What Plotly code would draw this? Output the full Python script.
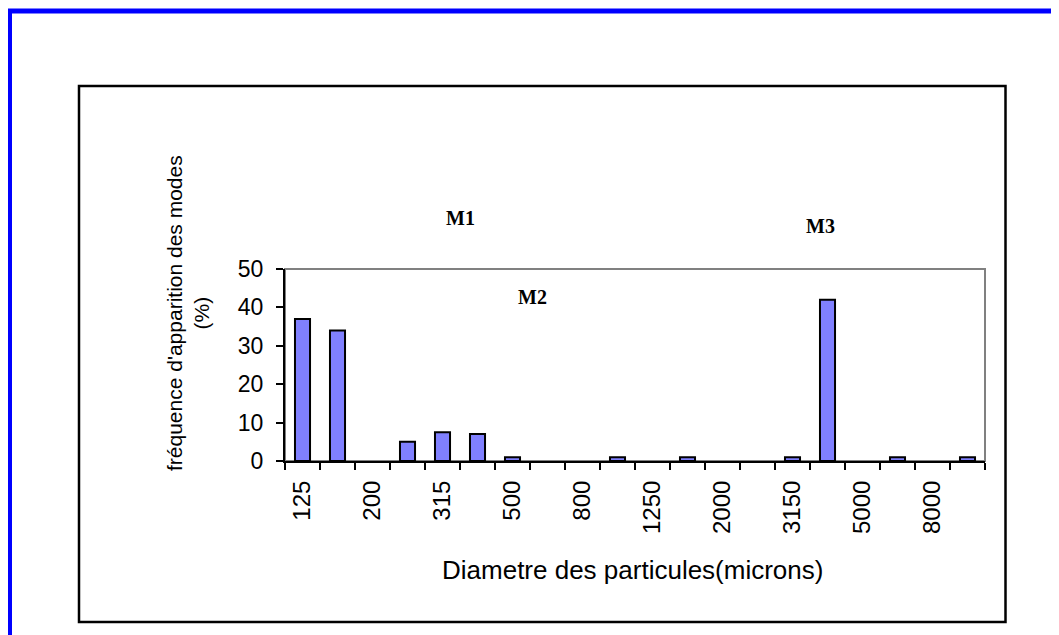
import plotly.graph_objects as go
import numpy as np

categories = ["125", "160", "200", "250", "315", "400", "500", "630", "800", "1000",
              "1250", "1600", "2000", "2500", "3150", "4000", "5000", "6300", "8000", "10000"]
frequencies = [37, 34, 0, 5, 7.5, 7, 1, 0, 0, 1, 0, 1, 0, 0, 1, 42, 0, 1, 0, 1]
shown_labels = ["125", "200", "315", "500", "800", "1250", "2000", "3150", "5000", "8000"]
y_ticks = [0, 10, 20, 30, 40, 50]
mode_labels = ["M1", "M2", "M3"]

OFF = 8  # page body margin
W, H = 1059 - OFF, 635 - OFF
L, R, T, B = 285 - OFF, 985 - OFF, 269 - OFF, 461 - OFF
pw, ph = R - L, B - T

def px(x):
    return (x - OFF - L) / pw

def py(y):
    return (B - (y - OFF)) / ph

idx = np.arange(len(categories))
ticktext = [c if c in shown_labels else "" for c in categories]
outline_w = [2 if v > 0 else 0 for v in frequencies]

fig = go.Figure()
fig.add_trace(go.Bar(
    x=idx, y=frequencies, width=0.43,
    marker=dict(color="#8080FF", line=dict(color="black", width=outline_w)),
    showlegend=False,
))

font = "Liberation Sans, Arial, sans-serif"

fig.update_layout(
    width=W, height=H,
    margin=dict(l=L, r=W - R, t=T, b=H - B, autoexpand=False),
    paper_bgcolor="white", plot_bgcolor="white",
    font=dict(family=font, color="black", size=22),
    xaxis=dict(
        range=[-0.5, len(categories) - 0.5],
        tickmode="array", tickvals=idx, ticktext=ticktext,
        tickangle=-90, ticks="", showgrid=False, zeroline=False,
        showline=True, linecolor="black", linewidth=2,
        tickfont=dict(size=24),
        minor=dict(tickmode="array", tickvals=np.arange(len(categories) + 1) - 0.5,
                   ticks="outside", ticklen=7, tickwidth=2, tickcolor="black", showgrid=False),
        ticklabelstandoff=8,
    ),
    yaxis=dict(
        range=[0, 50], tickmode="array", tickvals=y_ticks,
        ticks="outside", ticklen=7, tickwidth=2, tickcolor="black",
        showgrid=False, zeroline=False,
        showline=True, linecolor="black", linewidth=2,
        tickfont=dict(size=23),
        ticklabelstandoff=8,
    ),
    bargap=0.57,
)

shapes = [
    dict(type="rect", xref="paper", yref="paper", x0=0, x1=1, y0=0, y1=1,
         line=dict(color="#808080", width=2), layer="below"),
    dict(type="rect", xref="paper", yref="paper", x0=px(79), x1=px(1005.5), y0=py(622), y1=py(86),
         line=dict(color="black", width=2.5), layer="below"),
    dict(type="rect", xref="paper", yref="paper", x0=px(9.5), x1=px(1075), y0=py(650), y1=py(11),
         line=dict(color="#0000FF", width=5), layer="below"),
]
fig.update_layout(shapes=shapes)

annotations = [
    dict(text="fréquence d'apparition des modes<br>(%)", textangle=-90,
         x=px(188), y=py(313), xref="paper", yref="paper", showarrow=False,
         xanchor="center", yanchor="middle", font=dict(size=21, family=font)),
    dict(text="Diametre des particules(microns)",
         x=px(632), y=py(570), xref="paper", yref="paper", showarrow=False,
         xanchor="center", yanchor="middle", font=dict(size=26, family=font)),
]
mode_pos = [(460, 218), (532, 297), (820, 226)]
for lab, (mx, my) in zip(mode_labels, mode_pos):
    annotations.append(dict(text="<b>" + lab + "</b>", x=px(mx), y=py(my), xref="paper", yref="paper",
                            showarrow=False, xanchor="center", yanchor="middle",
                            font=dict(size=20, family="Liberation Serif, Times New Roman, serif")))
fig.update_layout(annotations=annotations)

fig.write_html("out.html")
